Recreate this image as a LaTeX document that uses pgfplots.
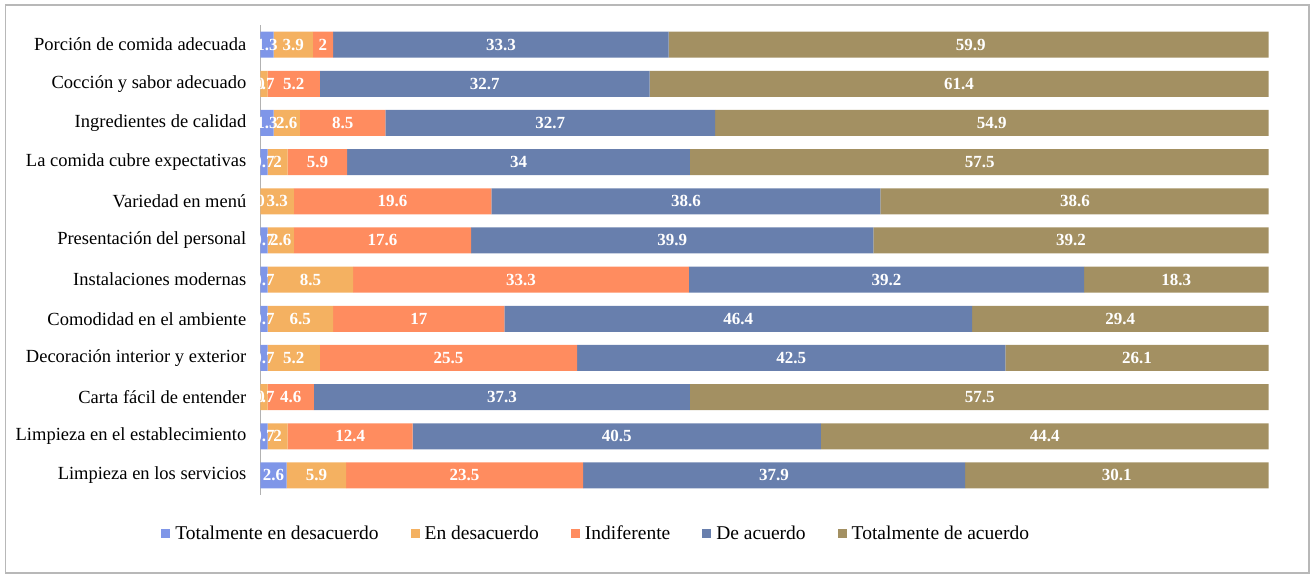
\documentclass[border=0pt]{standalone}
\usepackage{pgfplots}
\pgfplotsset{compat=1.18}
\usepackage{pgfplotstable}
\usepackage{fontspec}
\setmainfont{Liberation Serif}

\definecolor{cTD}{HTML}{7F96E8}
\definecolor{cED}{HTML}{F4B161}
\definecolor{cIN}{HTML}{FF8C5F}
\definecolor{cDA}{HTML}{687FAD}
\definecolor{cTA}{HTML}{A39062}

% idx 0 = top row
\pgfplotstableread{
idx td   ed   ind  da   ta
0   1.3  3.9  2    33.3 59.9
1   0    0.7  5.2  32.7 61.4
2   1.3  2.6  8.5  32.7 54.9
3   0.7  2    5.9  34   57.5
4   0    3.3  19.6 38.6 38.6
5   0.7  2.6  17.6 39.9 39.2
6   0.7  8.5  33.3 39.2 18.3
7   0.7  6.5  17   46.4 29.4
8   0.7  5.2  25.5 42.5 26.1
9   0    0.7  4.6  37.3 57.5
10  0.7  2    12.4 40.5 44.4
11  2.6  5.9  23.5 37.9 30.1
}\data

% centre of every segment, for the value labels
\pgfplotstablecreatecol[create col/expr={\thisrow{td}/2}]{mtd}\data
\pgfplotstablecreatecol[create col/expr={\thisrow{td}+\thisrow{ed}/2}]{med}\data
\pgfplotstablecreatecol[create col/expr={\thisrow{td}+\thisrow{ed}+\thisrow{ind}/2}]{mind}\data
\pgfplotstablecreatecol[create col/expr={\thisrow{td}+\thisrow{ed}+\thisrow{ind}+\thisrow{da}/2}]{mda}\data
\pgfplotstablecreatecol[create col/expr={\thisrow{td}+\thisrow{ed}+\thisrow{ind}+\thisrow{da}+\thisrow{ta}/2}]{mta}\data

\pgfplotsset{
  frame/.style={
    at={(260.5pt,79pt)}, anchor=south west,
    scale only axis, width=1008pt, height=470pt,
    xmin=0, xmax=100, ymin=-0.5, ymax=11.5,
    y dir=reverse,
  },
}

\begin{document}
\begin{tikzpicture}
\useasboundingbox (0,0) rectangle (1315pt,574pt);
\draw[black!28, line width=1.2pt] (5.5pt,1pt) rectangle (1309pt,569pt);
\begin{axis}[
  frame,
  xbar stacked, bar width=26pt,
  hide x axis,
  axis y line*=left,
  y axis line style={black!30, line width=1.5pt, -},
  ytick={0,...,11},
  yticklabels={Porción de comida adecuada, Cocción y sabor adecuado, Ingredientes de calidad, La comida cubre expectativas, Variedad en menú, Presentación del personal, Instalaciones modernas, Comodidad en el ambiente, Decoración interior y exterior, Carta fácil de entender, Limpieza en el establecimiento, Limpieza en los servicios},
  major tick length=0pt,
  yticklabel style={font=\fontsize{18.5}{20}\selectfont, inner sep=0pt, anchor=east, xshift=-14pt},
  legend columns=5,
  legend style={at={(0.333,-0.081)}, anchor=center, draw=none, fill=none,
    font=\fontsize{19.5}{21}\selectfont, inner sep=0pt,
    /tikz/every even column/.append style={column sep=30pt},
    /tikz/every odd column/.append style={column sep=3pt}},
  legend image code/.code={\fill[#1] (0pt,-4.5pt) rectangle (9pt,4.5pt);},
]
\addplot[fill=cTD, draw=none] table[x=td, y=idx] {\data};
\addplot[fill=cED, draw=none] table[x=ed, y=idx] {\data};
\addplot[fill=cIN, draw=none] table[x=ind, y=idx] {\data};
\addplot[fill=cDA, draw=none] table[x=da, y=idx] {\data};
\addplot[fill=cTA, draw=none] table[x=ta, y=idx] {\data};
\legend{Totalmente en desacuerdo, En desacuerdo, Indiferente, De acuerdo, Totalmente de acuerdo}
\end{axis}
% value labels, centred on their segments
\begin{axis}[
  frame, hide axis, clip=false,
  point meta=explicit,
  nodes near coords,
  every node near coord/.append style={font=\fontsize{17}{19}\selectfont\bfseries, text=white, anchor=center, inner sep=0pt, /pgf/number format/assume math mode=true},
]
\addplot[only marks, mark=none] table[x=mtd, y=idx, meta=td] {\data};
\addplot[only marks, mark=none] table[x=med, y=idx, meta=ed] {\data};
\addplot[only marks, mark=none] table[x=mind, y=idx, meta=ind] {\data};
\addplot[only marks, mark=none] table[x=mda, y=idx, meta=da] {\data};
\addplot[only marks, mark=none] table[x=mta, y=idx, meta=ta] {\data};
\end{axis}
\end{tikzpicture}
\end{document}
